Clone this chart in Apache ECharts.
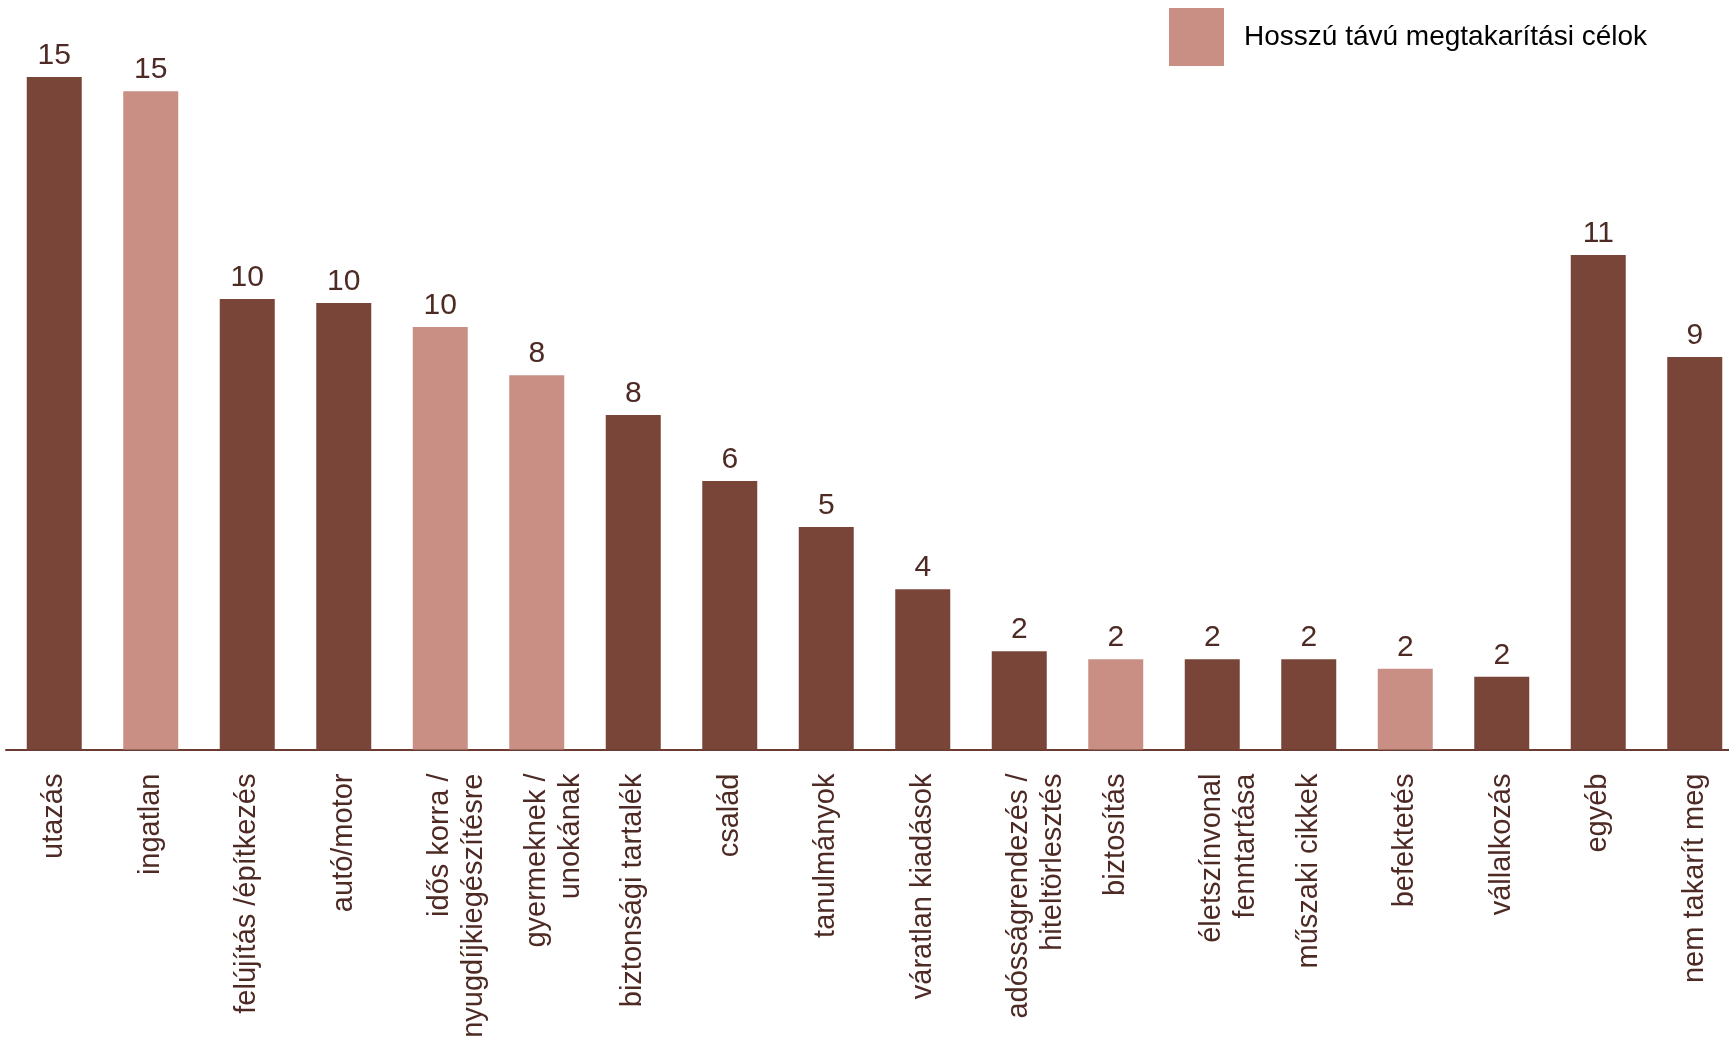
<!DOCTYPE html>
<html>
<head>
<meta charset="utf-8">
<script src="https://cdn.jsdelivr.net/npm/echarts@6/dist/echarts.min.js"></script>
<style>
  html, body { margin: 0; padding: 0; background: #FFFFFF; }
  #chart { width: 1729px; height: 1040px; }
</style>
</head>
<body>
<div id="chart"></div>
<script>
// kategóriák (x tengely)
var categories = [
  'utazás',
  'ingatlan',
  'felújítás /építkezés',
  'autó/motor',
  'idős korra /\nnyugdíjkiegészítésre',
  'gyermeknek /\nunokának',
  'biztonsági tartalék',
  'család',
  'tanulmányok',
  'váratlan kiadások',
  'adósságrendezés /\nhiteltörlesztés',
  'biztosítás',
  'életszínvonal\nfenntartása',
  'műszaki cikkek',
  'befektetés',
  'vállalkozás',
  'egyéb',
  'nem takarít meg'
]
// értékek (a címke kerekítve jelenik meg)
var values = [15.18, 14.86, 10.17, 10.08, 9.54, 8.45, 7.55, 6.06, 5.02, 3.62, 2.22, 2.04, 2.04, 2.04, 1.82, 1.64, 11.16, 8.86]
// hosszú távú megtakarítási cél-e (1 = igen)
var longTerm = [0, 1, 0, 0, 1, 1, 0, 0, 0, 0, 0, 1, 0, 0, 1, 0, 0, 0]
var legendName = 'Hosszú távú megtakarítási célok'

var darkColor = '#7a4539'
var lightColor = '#c98f84'
var textColor = '#4e2a25'
var fontFamily = '"Liberation Sans", Arial, sans-serif'

var myChart = echarts.init(document.getElementById('chart'))

var barData = values.map(function (v, i) {
  if (longTerm[i]) return v
  return { value: v, itemStyle: { color: darkColor } }
})

var option = {
  animation: false,
  backgroundColor: '#FFFFFF',
  legend: {
    data: [legendName],
    left: 1169,
    top: 8,
    padding: 0,
    icon: 'rect',
    itemWidth: 55,
    itemHeight: 58,
    textStyle: {
      color: '#000000',
      fontSize: 28,
      fontFamily: fontFamily,
      padding: [0, 0, 0, 15]
    }
  },
  grid: {
    left: 6,
    width: 1737, // az utolsó kategória kilóg a képből
    top: 40.7,
    bottom: 290.5,
    containLabel: false,
    outerBoundsMode: 'none'
  },
  xAxis: {
    type: 'category',
    data: categories,
    axisLine: {
      show: true,
      lineStyle: { color: '#6b3a31', width: 2 }
    },
    axisTick: { show: false },
    axisLabel: {
      interval: 0,
      rotate: 90,
      margin: 24,
      color: textColor,
      fontSize: 29,
      lineHeight: 34,
      fontFamily: fontFamily,
      padding: [0, 0, 5, 0],
      formatter: function (v) { // kétsoros címkéknél az első sor kerüljön a tick mellé
        return v.indexOf('\n') >= 0 ? '\n' + v : v
      }
    }
  },
  yAxis: {
    type: 'value',
    min: 0,
    max: 16,
    show: false,
    splitLine: { show: false }
  },
  series: [
    {
      name: legendName,
      type: 'bar',
      barWidth: 55,
      data: barData,
      itemStyle: { color: lightColor },
      label: {
        show: true,
        position: 'top',
        distance: 6,
        color: textColor,
        fontSize: 30,
        fontFamily: fontFamily,
        formatter: function (p) { return Math.round(p.value) }
      }
    }
  ]
}
myChart.setOption(option)
</script>
</body>
</html>
